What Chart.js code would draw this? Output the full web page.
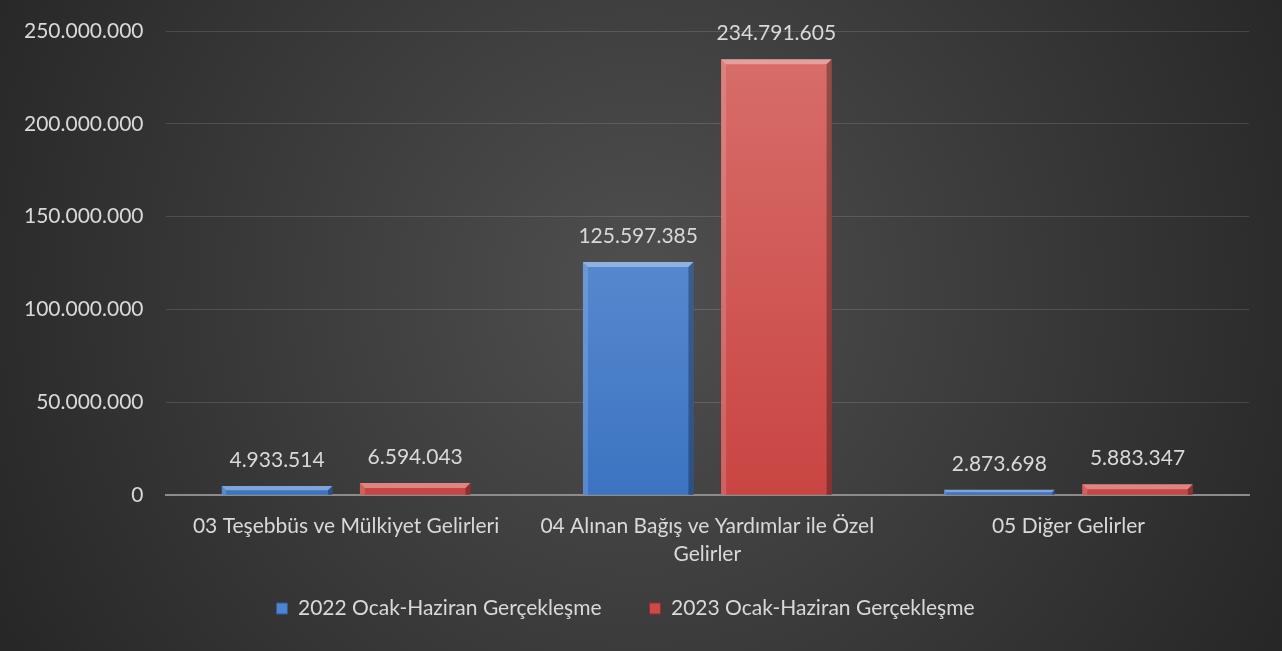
<!DOCTYPE html>
<html>
<head>
<meta charset="utf-8">
<script src="https://cdn.jsdelivr.net/npm/chart.js@4.4.0/dist/chart.umd.min.js"></script>
<style>
  html, body { margin:0; padding:0; background:#2a2a2a; }
  canvas { display:block; }
</style>
</head>
<body>
<canvas id="grafik" width="1282" height="651"></canvas>
<script>
// veriler
let kategoriler = [
  "03 Teşebbüs ve Mülkiyet Gelirleri",
  ["04 Alınan Bağış ve Yardımlar ile Özel", "Gelirler"],
  "05 Diğer Gelirler"
];
let seri2022 = [4933514, 125597385, 2873698];
let seri2023 = [6594043, 234791605, 5883347];
let seriAdlari = ["2022 Ocak-Haziran Gerçekleşme", "2023 Ocak-Haziran Gerçekleşme"];
let yTikler = [0, 50000000, 100000000, 150000000, 200000000, 250000000];

let yaziRengi = "#d9d9d9";
let yaziTipi = "Lato, 'Noto Sans', sans-serif";

function noktali(n){
  return String(Math.round(n)).replace(/\B(?=(\d{3})+(?!\d))/g, ".");
}

function gradyan(ctx, ust, alt){
  let area = ctx.chart.chartArea;
  if(!area) return ust;
  let g = ctx.chart.ctx.createLinearGradient(0, area.top, 0, area.bottom);
  g.addColorStop(0, ust);
  g.addColorStop(1, alt);
  return g;
}

// arka plan
let arkaPlan = {
  id: "arkaPlan",
  beforeDraw(chart){
    let c = chart.ctx, w = chart.width, h = chart.height;
    let g = c.createRadialGradient(w*0.5, h*0.45, 20, w*0.5, h*0.45, w*0.62);
    g.addColorStop(0, "#4e4e4e");
    g.addColorStop(1, "#232323");
    c.save();
    c.fillStyle = g;
    c.fillRect(0, 0, w, h);
    c.restore();
  }
};

// lejant: yatay aralık geniş kalsın, üstteki boşluk az olsun
let lejantKaydir = 35;
let lejantSikistir = {
  id: "lejantSikistir",
  beforeInit(chart){
    let lg = chart.legend;
    if(!lg) return;
    let fit = lg.fit, draw = lg.draw;
    lg.fit = function(){ fit.call(this); this.height -= lejantKaydir; };
    lg.draw = function(a){
      this.top -= lejantKaydir;
      draw.call(this, a);
      this.top += lejantKaydir;
    };
  }
};

// bar üstü değerler
let degerEtiketleri = {
  id: "degerEtiketleri",
  afterDatasetsDraw(chart){
    let c = chart.ctx;
    c.save();
    c.fillStyle = yaziRengi;
    c.font = "21px " + yaziTipi;
    c.textAlign = "center";
    c.textBaseline = "alphabetic";
    chart.data.datasets.forEach((ds, i) => {
      chart.getDatasetMeta(i).data.forEach((bar, j) => {
        c.fillText(noktali(ds.data[j]), bar.x, bar.y - 19);
      });
    });
    c.restore();
  }
};

// bevel efekti
let bevel = {
  id: "bevel",
  afterDatasetsDraw(chart){
    let c = chart.ctx;
    c.save();
    chart.data.datasets.forEach((ds, i) => {
      chart.getDatasetMeta(i).data.forEach(bar => {
        let x0 = bar.x - bar.width/2, x1 = bar.x + bar.width/2;
        let y0 = bar.y, y1 = bar.base;
        let d = Math.min(5, (y1 - y0)/2);
        c.fillStyle = "rgba(255,255,255,0.35)";
        c.beginPath();
        c.moveTo(x0, y0); c.lineTo(x1, y0); c.lineTo(x1-d, y0+d); c.lineTo(x0+d, y0+d); c.closePath();
        c.fill();
        c.fillStyle = "rgba(255,255,255,0.15)";
        c.beginPath();
        c.moveTo(x0, y0); c.lineTo(x0+d, y0+d); c.lineTo(x0+d, y1); c.lineTo(x0, y1); c.closePath();
        c.fill();
        c.fillStyle = "rgba(0,0,0,0.3)";
        c.beginPath();
        c.moveTo(x1, y0); c.lineTo(x1-d, y0+d); c.lineTo(x1-d, y1); c.lineTo(x1, y1); c.closePath();
        c.fill();
      });
    });
    c.restore();
  }
};

Chart.defaults.font.family = yaziTipi;
Chart.defaults.color = yaziRengi;

let grafik = new Chart(document.getElementById("grafik").getContext("2d"), {
  type: "bar",
  data: {
    labels: kategoriler,
    datasets: [
      {
        label: seriAdlari[0],
        data: seri2022,
        backgroundColor: ctx => gradyan(ctx, "#6f9bd9", "#3c74c2"),
        borderWidth: 0
      },
      {
        label: seriAdlari[1],
        data: seri2023,
        backgroundColor: ctx => gradyan(ctx, "#d86f6c", "#c94542"),
        borderWidth: 0
      }
    ]
  },
  options: {
    responsive: false,
    animation: false,
    categoryPercentage: 0.765,
    barPercentage: 0.8,
    layout: { padding: { top: 31, right: 33, left: 2, bottom: 22 } },
    scales: {
      x: {
        grid: { display: false, drawTicks: false },
        border: { color: "#8c8c8c", width: 2 },
        ticks: { color: yaziRengi, font: { size: 21, lineHeight: 1.33 }, padding: 17, maxRotation: 0, autoSkip: false }
      },
      y: {
        min: 0,
        max: 250000000,
        afterBuildTicks: axis => { axis.ticks = yTikler.map(v => ({ value: v })); },
        afterFit: s => { s.paddingTop = 10; s.paddingBottom = 10; },
        grid: { color: "rgba(255,255,255,0.13)", drawTicks: false },
        border: { display: false },
        ticks: { color: yaziRengi, font: { size: 21 }, padding: 22, callback: v => noktali(v) }
      }
    },
    plugins: {
      legend: {
        position: "bottom",
        labels: {
          color: yaziRengi,
          font: { size: 21 },
          boxWidth: 11,
          boxHeight: 11,
          padding: 48,
          generateLabels: chart => seriAdlari.map((ad, i) => ({
            text: ad,
            fillStyle: i === 0 ? "#4f85cf" : "#cc4a47",
            strokeStyle: i === 0 ? "#2f5a96" : "#8f2f2d",
            lineWidth: 1,
            fontColor: yaziRengi,
            datasetIndex: i
          }))
        }
      },
      tooltip: { enabled: false }
    }
  },
  plugins: [arkaPlan, lejantSikistir, bevel, degerEtiketleri]
});
</script>
</body>
</html>
